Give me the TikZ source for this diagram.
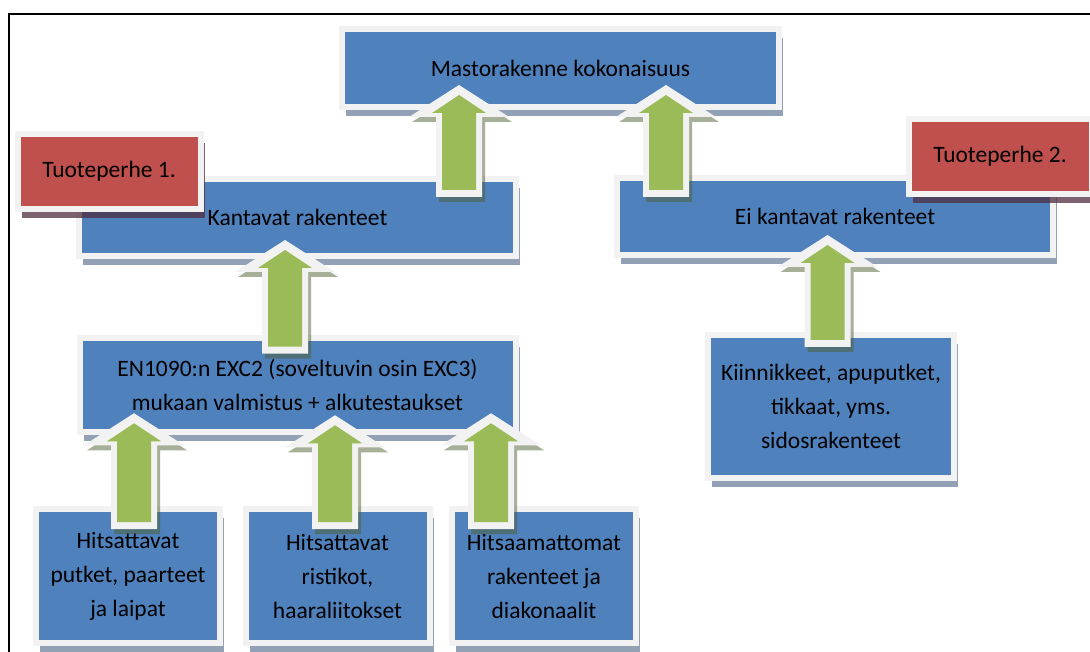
\documentclass[tikz,border=0pt]{standalone}
\usepackage{fontspec}
\setmainfont{Carlito}
\usetikzlibrary{calc}

\definecolor{boxblue}{RGB}{79,129,189}
\definecolor{famred}{RGB}{192,80,77}
\definecolor{arrgreen}{RGB}{155,187,89}
\definecolor{rimgray}{RGB}{242,242,242}
\definecolor{blueshade}{RGB}{40,68,110}
\definecolor{redshade}{RGB}{100,35,40}
\definecolor{greenshade}{RGB}{80,95,50}

% block arrow: #1 = foot of the shaft, #2 = tip
\newcommand{\blockarrow}[2]{%
  \fill[arrshade] let \p1=(#1), \p2=(#2) in
    (\x2+3pt,\y2+5pt) -- (\x2+53pt,\y2-27pt) -- (\x2+26pt,\y2-27pt) -- (\x2+26pt,\y1-12pt)
    -- (\x2-20pt,\y1-12pt) -- (\x2-20pt,\y2-27pt) -- (\x2-47pt,\y2-27pt) -- cycle;
  \fill[arrrim] let \p1=(#1), \p2=(#2) in
    (\x2,\y2+10pt) -- (\x2+50pt,\y2-22pt) -- (\x2+23pt,\y2-22pt) -- (\x2+23pt,\y1-7pt)
    -- (\x2-23pt,\y1-7pt) -- (\x2-23pt,\y2-22pt) -- (\x2-50pt,\y2-22pt) -- cycle;
  \fill[arrbody] let \p1=(#1), \p2=(#2) in
    (\x2,\y2) -- (\x2+27pt,\y2-18pt) -- (\x2+17pt,\y2-18pt) -- (\x2+17pt,\y1)
    -- (\x2-17pt,\y1) -- (\x2-17pt,\y2-18pt) -- (\x2-27pt,\y2-18pt) -- cycle;
}

\begin{document}
\begin{tikzpicture}[x=1pt, y=-1pt,
  every node/.style={align=center, font=\fontsize{23.5}{34}\selectfont},
  box/.style={draw=rimgray, line width=6pt, fill=boxblue, inner sep=0pt, outer sep=0pt,
              preaction={fill=blueshade, fill opacity=0.5, draw=none,
                         transform canvas={shift={(4pt,-9pt)}}}},
  famlabel/.style={box, fill=famred, minimum width=183pt, minimum height=75pt,
              preaction={fill=redshade, fill opacity=0.5, draw=none,
                         transform canvas={shift={(4pt,-9pt)}}}},
  partbox/.style={box, minimum width=184pt, minimum height=134pt},
  arrshade/.style={fill=greenshade, fill opacity=0.5},
  arrrim/.style={fill=rimgray},
  arrbody/.style={fill=arrgreen}
]
  \useasboundingbox (0,0) rectangle (1090,652);
  \draw[line width=2pt] (1090,14) -- (9,14) -- (9,652);

  \node[box, minimum width=437pt, minimum height=78pt] (whole) at (560.5,68) {Mastorakenne kokonaisuus};
  \node[box, minimum width=437pt, minimum height=77pt] (load) at (297.5,217.5) {Kantavat rakenteet};
  \node[box, minimum width=436pt, minimum height=77pt] (nonload) at (835,216.5) {Ei kantavat rakenteet};
  \node[famlabel] (fam1) at (109,171.5) {Tuoteperhe 1.};
  \node[famlabel] (fam2) at (1000,156.5) {Tuoteperhe 2.};

  \node[box, minimum width=436pt, minimum height=94.5pt] (exc) at (297.5,385)
    {EN1090:n EXC2 (soveltuvin osin EXC3)\\mukaan valmistus + alkutestaukset};
  \node[box, minimum width=246pt, minimum height=143pt] (fix) at (831,406.5)
    {Kiinnikkeet, apuputket,\\tikkaat, yms.\\sidosrakenteet};

  \node[partbox] (weld1) at (128,576) {Hitsattavat\\putket, paarteet\\ja laipat};
  \node[partbox] (weld2) at (337.5,576) {Hitsattavat\\ristikot,\\haaraliitokset};
  \node[partbox] (bolted) at (544,576) {Hitsaamattomat\\rakenteet ja\\diakonaalit};

  \blockarrow{$(load.north)+(161.5,11)$}{$(whole.south)+(-101.5,-12)$}
  \blockarrow{$(nonload.north)+(-169,12)$}{$(whole.south)+(105.5,-12)$}
  \blockarrow{$(exc.north)+(-12.5,9)$}{$(load.south)+(-12.5,-6)$}
  \blockarrow{$(fix.north)+(-3.5,5)$}{$(nonload.south)+(-7.5,-10)$}
  \blockarrow{$(weld1.north)+(6,13)$}{$(exc.south)+(-163.5,-9)$}
  \blockarrow{$(weld2.north)+(-2.5,13)$}{$(exc.south)+(37.5,-7)$}
  \blockarrow{$(bolted.north)+(-53,13)$}{$(exc.south)+(193.5,-9)$}
\end{tikzpicture}
\end{document}
